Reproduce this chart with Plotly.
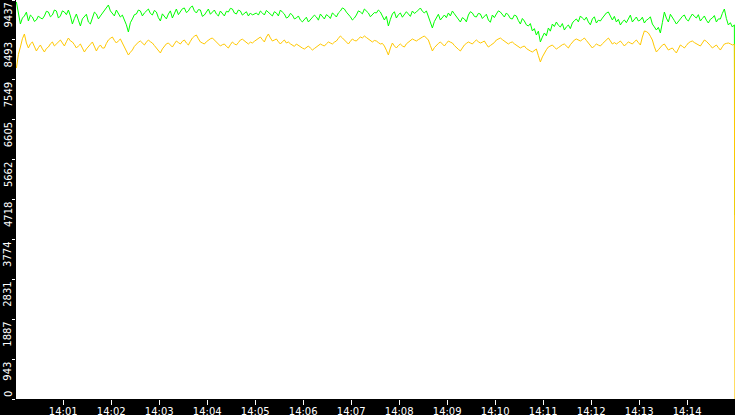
import pandas as pd
import plotly.graph_objects as go

# sampled every 2.5 s from 14:00:01.5, last sample is the drop at the very end
green_vals = [
    9390, 9120, 8869, 9010, 9059, 9150, 8940, 9080, 9035, 8930, 8964, 9060, 9011, 8990, 9059,
    9170, 9153, 9040, 9082, 9200, 9177, 9010, 9059, 9180, 9153, 9090, 9200, 9060, 8869, 9000,
    9106, 8960, 8822, 8990, 9035, 9100, 8917, 8870, 9011, 9150, 9106, 8990, 9059, 9130, 9177,
    9240, 9319, 9180, 9130, 9060, 9200, 9120, 9035, 9080, 8964, 8850, 8680, 8900, 8988, 9090,
    9106, 9200, 9177, 9060, 9130, 9170, 9224, 9120, 9082, 9190, 9153, 9020, 8940, 9110, 9059,
    8990, 9106, 9180, 9011, 9130, 9224, 9090, 9153, 9230, 9248, 9140, 9177, 9260, 9295, 9180,
    9130, 9210, 9200, 9050, 9082, 9170, 9224, 9100, 9153, 9200, 9106, 9060, 9177, 9120, 9059,
    9170, 9153, 9240, 9224, 9130, 9106, 9200, 9177, 9080, 9130, 9160, 9059, 9130, 9082, 9110,
    9130, 9080, 9177, 9130, 9082, 9190, 9153, 9100, 9059, 9160, 9130, 9060, 9200, 9150, 9106,
    9010, 9035, 9120, 9082, 8990, 9011, 9060, 8964, 8920, 8988, 9030, 8917, 8970, 9011, 9080,
    9035, 8960, 9106, 9050, 8988, 9090, 9059, 9000, 9130, 9090, 9035, 9130, 9177, 9250, 9224,
    9150, 9106, 9040, 8964, 9010, 9082, 9180, 9153, 9110, 9224, 9180, 9130, 9040, 9082, 9140,
    9130, 9200, 9153, 9060, 8964, 9050, 8822, 8980, 9106, 9160, 9011, 9090, 9130, 9030, 9082,
    9160, 9106, 9050, 9177, 9120, 9153, 9210, 9248, 9170, 9130, 9180, 9059, 8900, 8775, 8930,
    9035, 9100, 8964, 9030, 9082, 9020, 9130, 9060, 9177, 9110, 9035, 8960, 8917, 9020, 8988,
    8920, 9082, 9160, 9130, 9050, 9035, 9120, 9106, 9000, 9059, 9100, 8964, 8910, 9082, 9020,
    9106, 9180, 9153, 9090, 9035, 9130, 9082, 9000, 8988, 9080, 9059, 8950, 8869, 9000, 8940,
    8850, 8822, 8880, 8704, 8760, 8609, 8700, 8444, 8560, 8657, 8590, 8775, 8700, 8869, 8810,
    8917, 8840, 8798, 8880, 8727, 8800, 8846, 8760, 8893, 8950, 8988, 8920, 9059, 9010, 8964,
    9030, 8917, 8850, 8988, 9040, 8893, 8960, 8940, 9010, 9059, 9130, 9153, 9060, 8964, 9050,
    8917, 8980, 8846, 8920, 8964, 8900, 9011, 9080, 8917, 8990, 9035, 8940, 8964, 9030, 8893,
    8960, 8988, 9040, 8869, 8800, 8727, 8790, 8657, 8900, 9153, 9010, 8917, 9100, 9035, 8950,
    8869, 8940, 8988, 9050, 9082, 8980, 8940, 9030, 9106, 9050, 9011, 9090, 8940, 9000, 9059,
    8960, 8893, 8980, 9011, 9070, 8917, 8990, 8988, 9120, 9224, 9000, 8846, 8900, 8798, 8850,
    4350,
]
orange_vals = [
    7829, 8150, 8325, 8520, 8633, 8420, 8302, 8400, 8444, 8330, 8231, 8310, 8373, 8280, 8207,
    8290, 8325, 8400, 8444, 8350, 8396, 8460, 8491, 8420, 8349, 8450, 8538, 8470, 8444, 8380,
    8302, 8350, 8396, 8300, 8207, 8280, 8325, 8390, 8444, 8330, 8231, 8320, 8373, 8300, 8302,
    8410, 8491, 8530, 8562, 8480, 8420, 8470, 8515, 8420, 8325, 8220, 8136, 8200, 8254, 8340,
    8396, 8440, 8467, 8410, 8373, 8440, 8491, 8450, 8420, 8360, 8302, 8240, 8184, 8280, 8349,
    8400, 8420, 8370, 8325, 8400, 8467, 8430, 8396, 8460, 8491, 8420, 8373, 8460, 8538, 8580,
    8609, 8520, 8444, 8420, 8396, 8450, 8491, 8520, 8538, 8490, 8444, 8390, 8349, 8380, 8396,
    8340, 8302, 8380, 8444, 8400, 8373, 8430, 8491, 8510, 8467, 8420, 8396, 8440, 8420, 8460,
    8491, 8530, 8562, 8500, 8444, 8560, 8633, 8540, 8467, 8490, 8515, 8450, 8396, 8450, 8491,
    8420, 8444, 8400, 8373, 8340, 8396, 8360, 8325, 8300, 8278, 8320, 8349, 8300, 8254, 8290,
    8325, 8370, 8396, 8370, 8349, 8400, 8444, 8420, 8396, 8440, 8467, 8530, 8586, 8540, 8491,
    8440, 8396, 8460, 8515, 8480, 8467, 8520, 8562, 8540, 8586, 8550, 8515, 8480, 8444, 8480,
    8467, 8430, 8396, 8410, 8349, 8250, 8136, 8300, 8420, 8350, 8302, 8360, 8396, 8350, 8325,
    8400, 8444, 8480, 8515, 8490, 8467, 8500, 8538, 8560, 8586, 8540, 8491, 8360, 8231, 8310,
    8373, 8410, 8444, 8390, 8349, 8410, 8467, 8440, 8420, 8360, 8302, 8270, 8231, 8300, 8373,
    8410, 8444, 8420, 8396, 8450, 8491, 8450, 8420, 8440, 8467, 8390, 8325, 8360, 8396, 8430,
    8491, 8520, 8538, 8500, 8467, 8420, 8396, 8430, 8444, 8400, 8373, 8330, 8302, 8330, 8349,
    8290, 8254, 8230, 8207, 8250, 8278, 8120, 7971, 8090, 8184, 8260, 8325, 8350, 8373, 8320,
    8278, 8310, 8349, 8380, 8396, 8340, 8302, 8380, 8444, 8490, 8515, 8490, 8467, 8500, 8538,
    8480, 8420, 8360, 8302, 8350, 8396, 8370, 8349, 8400, 8444, 8500, 8538, 8470, 8396, 8430,
    8396, 8430, 8467, 8410, 8349, 8400, 8444, 8420, 8396, 8450, 8491, 8430, 8373, 8560, 8704,
    8690, 8657, 8580, 8491, 8330, 8207, 8260, 8325, 8370, 8396, 8320, 8254, 8280, 8302, 8240,
    8184, 8280, 8373, 8340, 8302, 8360, 8420, 8450, 8467, 8430, 8396, 8370, 8349, 8420, 8491,
    8460, 8420, 8360, 8302, 8340, 8373, 8310, 8254, 8330, 8396, 8410, 8420, 8400, 8373, 8390,
    0,
]
y_ticks = [0, 943, 1887, 2831, 3774, 4718, 5662, 6605, 7549, 8493, 9437]

times = list(pd.date_range("2024-01-01 14:00:01.5", periods=len(green_vals) - 1, freq="2500ms"))
times.append(pd.Timestamp("2024-01-01 14:14:59.7"))

font = dict(family="DejaVu Sans", size=10, color="white")

fig = go.Figure()
fig.add_trace(go.Scatter(x=times, y=green_vals, mode="lines",
                         line=dict(color="#00ff00", width=1), name="green"))
fig.add_trace(go.Scatter(x=times[:len(orange_vals)], y=orange_vals, mode="lines",
                         line=dict(color="#ffc800", width=1), name="orange"))

# rotated y labels sit just below their tick
for v in y_ticks:
    fig.add_annotation(x=0, xref="paper", y=v, yref="y", text=str(v),
                       textangle=-90, showarrow=False, font=font,
                       xanchor="center", xshift=-8,
                       yanchor="bottom" if v == 0 else "top",
                       yshift=0 if v == 0 else -1)

fig.update_layout(
    template="none",
    width=735, height=415,
    margin=dict(l=16, r=0, t=0, b=16),
    paper_bgcolor="black",
    plot_bgcolor="white",
    showlegend=False,
    font=font,
)
fig.update_xaxes(
    range=["2024-01-01 14:00:01", "2024-01-01 14:14:59.8"],
    tick0="2024-01-01 14:01:00", dtick=60000, tickformat="%H:%M",
    ticks="outside", ticklen=5, tickcolor="white", tickwidth=1,
    ticklabelstandoff=-2,
    showgrid=False, zeroline=False, showline=False, automargin=False,
    tickfont=font,
)
fig.update_yaxes(
    range=[0, 9437], tickvals=y_ticks, showticklabels=False,
    ticks="outside", ticklen=3, tickcolor="white", tickwidth=1,
    showgrid=False, zeroline=False, showline=False, automargin=False,
)

fig.write_html("out.html", config={"displayModeBar": False},
               post_script="document.body.style.margin = '0';")
